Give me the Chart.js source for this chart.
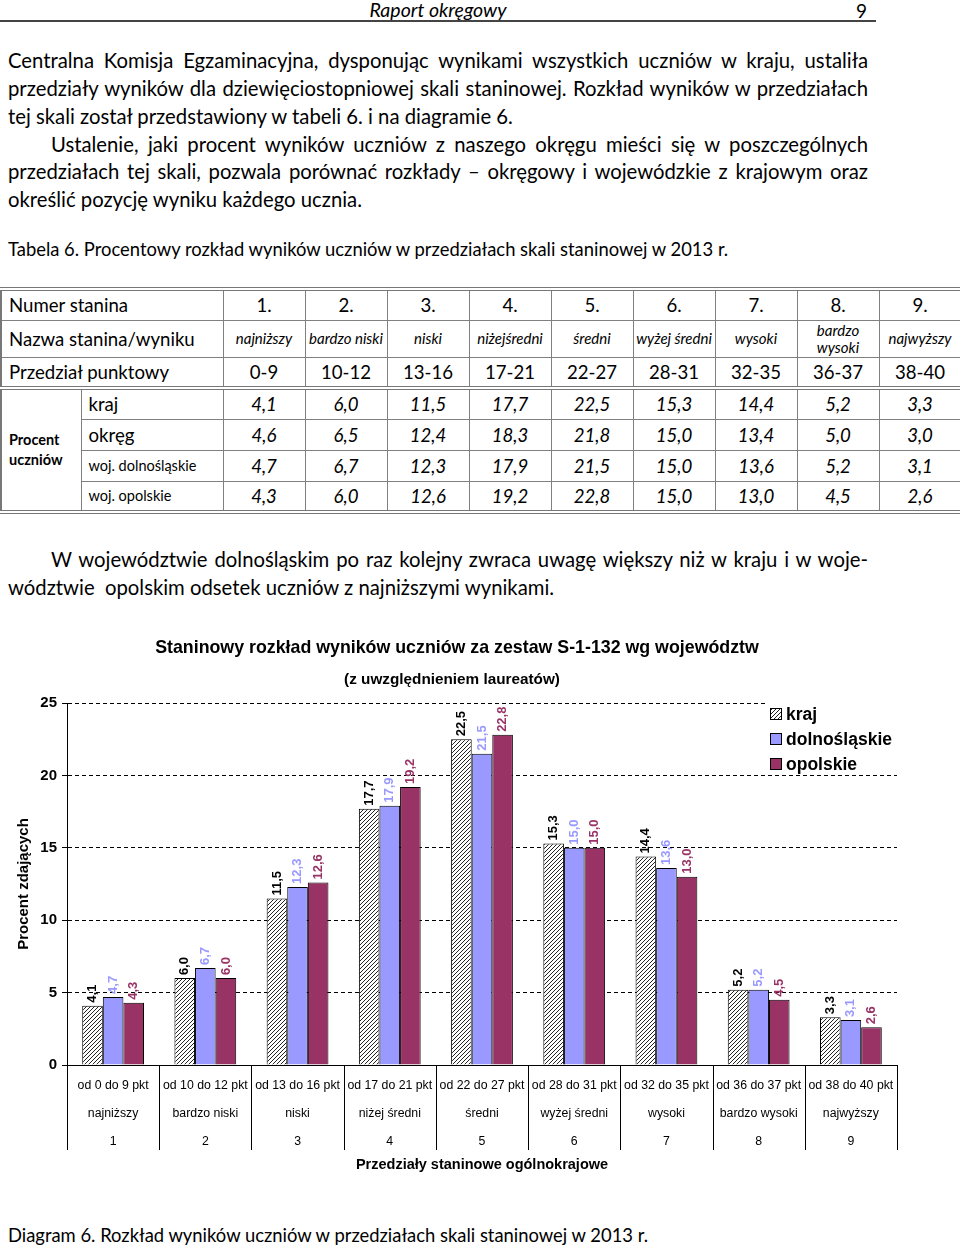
<!DOCTYPE html>
<html lang="pl">
<head>
<meta charset="utf-8">
<title>Raport okręgowy</title>
<script src="https://cdn.jsdelivr.net/npm/chart.js@4.4.0/dist/chart.umd.min.js"></script>
<style>
  body { margin: 0; width: 960px; height: 1247px; position: relative; background: #fff; color: #000;
         font-family: Lato, "Open Sans", sans-serif; overflow: hidden; }
  .abs { position: absolute; }
  .line { position: absolute; left: 8px; width: 860px; height: 28px; line-height: 28px; font-size: 20.3px; }
  .cap { font-size: 18.4px; }
  .just { text-align: justify; text-align-last: justify; }
  .ind { left: 51px; width: 817px; }
  #head { left: 0; top: 0; width: 876px; height: 20px; line-height: 20px; text-align: center; font-style: italic; font-size: 19.5px; }
  #page { left: 856px; top: 0; line-height: 22px; font-size: 19px; }
  #rule { left: 0; top: 20px; width: 876px; border-top: 2px solid #444; }
  #tab { position: absolute; left: 0; top: 287px; width: 959px; border-collapse: collapse; table-layout: fixed;
         border-top: 4px double #777; border-bottom: 4px double #777; border-left: 2px solid #777; font-size: 18.6px; }
  #tab td { border: 1px solid #808080; padding: 0; text-align: center; vertical-align: middle; white-space: nowrap; }
  #tab td.lab { text-align: left; padding-left: 7px; }
  #tab td.sm { font-size: 14.5px; }
  #tab td.it { font-style: italic; }
  #tab td.nm { font-style: italic; font-size: 15px; line-height: 17px; }
  #tab tr.sep td { border-top: 4px double #777; }
  #tab td.proc { font-weight: bold; font-size: 14.5px; text-align: left; padding-left: 7px; line-height: 20px; }
  #wrap { left: 0; top: 625px; width: 960px; height: 560px; }
</style>
</head>
<body>
<div id="head" class="abs">Raport okręgowy</div>
<div id="page" class="abs">9</div>
<div id="rule" class="abs"></div>

<div class="line just" style="top:46px">Centralna Komisja Egzaminacyjna, dysponując wynikami wszystkich uczniów w kraju, ustaliła</div>
<div class="line just" style="top:74px">przedziały wyników dla dziewięciostopniowej skali staninowej. Rozkład wyników w przedziałach</div>
<div class="line" style="top:102px">tej skali został przedstawiony w tabeli 6. i na diagramie 6.</div>
<div class="line just ind" style="top:130px">Ustalenie, jaki procent wyników uczniów z naszego okręgu mieści się w poszczególnych</div>
<div class="line just" style="top:157px">przedziałach tej skali, pozwala porównać rozkłady – okręgowy i wojewódzkie z krajowym oraz</div>
<div class="line" style="top:185px">określić pozycję wyniku każdego ucznia.</div>
<div class="line cap" style="top:235px">Tabela 6. Procentowy rozkład wyników uczniów w przedziałach skali staninowej w 2013 r.</div>

<table id="tab"></table>

<div class="line just ind" style="top:545px">W województwie dolnośląskim po raz kolejny zwraca uwagę większy niż w kraju i w woje-</div>
<div class="line" style="top:573px">wództwie&nbsp; opolskim odsetek uczniów z najniższymi wynikami.</div>

<div id="wrap" class="abs"><canvas id="chart" width="960" height="560"></canvas></div>

<div class="line cap" style="top:1221px">Diagram 6. Rozkład wyników uczniów w przedziałach skali staninowej w 2013 r.</div>

<script>
// dane z tabeli 6 / diagramu 6
const numery = ['1', '2', '3', '4', '5', '6', '7', '8', '9'];
const nazwy = ['najniższy', 'bardzo niski', 'niski', 'niżej średni', 'średni', 'wyżej średni', 'wysoki', 'bardzo wysoki', 'najwyższy'];
const nazwyTabela = ['najniższy', 'bardzo niski', 'niski', 'niżejśredni', 'średni', 'wyżej średni', 'wysoki', 'bardzo<br>wysoki', 'najwyższy'];
const przedzialy = ['0-9', '10-12', '13-16', '17-21', '22-27', '28-31', '32-35', '36-37', '38-40'];
const przedzialyPkt = ['od 0 do 9 pkt', 'od 10 do 12 pkt', 'od 13 do 16 pkt', 'od 17 do 21 pkt', 'od 22 do 27 pkt',
                       'od 28 do 31 pkt', 'od 32 do 35 pkt', 'od 36 do 37 pkt', 'od 38 do 40 pkt'];

const kraj = [4.1, 6.0, 11.5, 17.7, 22.5, 15.3, 14.4, 5.2, 3.3];
const okreg = [4.6, 6.5, 12.4, 18.3, 21.8, 15.0, 13.4, 5.0, 3.0];
const dolnoslaskie = [4.7, 6.7, 12.3, 17.9, 21.5, 15.0, 13.6, 5.2, 3.1];
const opolskie = [4.3, 6.0, 12.6, 19.2, 22.8, 15.0, 13.0, 4.5, 2.6];

const yTicks = [0, 5, 10, 15, 20, 25];

const fmt = v => v.toFixed(1).replace('.', ',');

// tabela
function buildTable() {
    let h = '<colgroup><col style="width:80px"><col style="width:142px">';
    numery.forEach(() => { h += '<col style="width:82px">'; });
    h += '</colgroup>';
    h += '<tr style="height:31px"><td colspan="2" class="lab">Numer stanina</td>' + numery.map(n => '<td>' + n + '.</td>').join('') + '</tr>';
    h += '<tr style="height:37px"><td colspan="2" class="lab">Nazwa stanina/wyniku</td>' + nazwyTabela.map(n => '<td class="nm">' + n + '</td>').join('') + '</tr>';
    h += '<tr style="height:31px"><td colspan="2" class="lab">Przedział punktowy</td>' + przedzialy.map(n => '<td>' + n + '</td>').join('') + '</tr>';
    const wiersze = [['kraj', kraj, ''], ['okręg', okreg, ''], ['woj. dolnośląskie', dolnoslaskie, ' sm'], ['woj. opolskie', opolskie, ' sm']];
    wiersze.forEach((w, i) => {
        h += '<tr style="height:31px"' + (i === 0 ? ' class="sep"' : '') + '>';
        if (i === 0) h += '<td rowspan="4" class="proc">Procent<br>uczniów</td>';
        h += '<td class="lab' + w[2] + '">' + w[0] + '</td>';
        h += w[1].map(v => '<td class="it">' + fmt(v) + '</td>').join('');
        h += '</tr>';
    });
    document.getElementById('tab').innerHTML = h;
}
buildTable();

// kreskowanie dla słupków "kraj"
function hatch() {
    const c = document.createElement('canvas');
    c.width = 4; c.height = 4;
    const g = c.getContext('2d');
    g.fillStyle = '#fff';
    g.fillRect(0, 0, 4, 4);
    g.strokeStyle = '#222';
    g.lineWidth = 1;
    g.beginPath();
    g.moveTo(0, 4); g.lineTo(4, 0);
    g.moveTo(-1, 1); g.lineTo(1, -1);
    g.moveTo(3, 5); g.lineTo(5, 3);
    g.stroke();
    return g.createPattern(c, 'repeat');
}
const krajFill = hatch();

const ARIAL = '"Liberation Sans", Arial, sans-serif';

const extras = {
    id: 'extras',
    afterDatasetsDraw(chart) {
        const ctx = chart.ctx;
        chart.data.datasets.forEach((ds, i) => {
            chart.getDatasetMeta(i).data.forEach((bar, j) => {
                ctx.save();
                ctx.translate(bar.x, bar.y - 3);
                ctx.rotate(-Math.PI / 2);
                ctx.font = 'bold 13px ' + ARIAL;
                ctx.fillStyle = ds.labelColor;
                ctx.textAlign = 'left';
                ctx.textBaseline = 'middle';
                ctx.fillText(fmt(ds.data[j]), 0, 0);
                ctx.restore();
            });
        });
    },
    afterDraw(chart) {
        const ctx = chart.ctx;
        const area = chart.chartArea;
        const x = chart.scales.x;

        // pionowe linie między przedziałami
        ctx.save();
        ctx.strokeStyle = '#000';
        ctx.lineWidth = 1;
        ctx.beginPath();
        for (let i = 0; i <= chart.data.labels.length; i++) {
            const px = Math.round(x.getPixelForValue(i - 0.5)) + 0.5;
            ctx.moveTo(px, area.bottom);
            ctx.lineTo(px, area.bottom + 85);
        }
        ctx.stroke();

        // tytuł
        ctx.fillStyle = '#000';
        ctx.textAlign = 'center';
        ctx.textBaseline = 'middle';
        ctx.font = 'bold 17.8px ' + ARIAL;
        ctx.fillText('Staninowy rozkład wyników uczniów za zestaw S-1-132 wg województw', 457, 23);
        ctx.font = 'bold 15.3px ' + ARIAL;
        ctx.fillText('(z uwzględnieniem laureatów)', 452, 55);

        // legenda
        const lx = area.right - 132;
        ctx.fillStyle = '#fff';
        ctx.fillRect(lx, area.top - 3, area.right - lx + 4, 73);
        ctx.font = 'bold 17.5px ' + ARIAL;
        ctx.textAlign = 'left';
        chart.data.datasets.forEach((ds, i) => {
            const cy = area.top + 11 + i * 25;
            ctx.fillStyle = ds.backgroundColor;
            ctx.fillRect(lx + 5, cy - 6, 12, 12);
            ctx.strokeStyle = '#000';
            ctx.strokeRect(lx + 5.5, cy - 5.5, 11, 11);
            ctx.fillStyle = '#000';
            ctx.fillText(ds.label, lx + 21, cy + 1);
        });
        ctx.restore();
    }
};

new Chart(document.getElementById('chart'), {
    type: 'bar',
    data: {
        labels: przedzialyPkt.map((p, i) => [p, nazwy[i], numery[i]]),
        datasets: [
            { label: 'kraj', data: kraj, backgroundColor: krajFill, labelColor: '#000' },
            { label: 'dolnośląskie', data: dolnoslaskie, backgroundColor: '#9999ff', labelColor: '#9999ff' },
            { label: 'opolskie', data: opolskie, backgroundColor: '#993366', labelColor: '#993366' }
        ].map(d => Object.assign(d, { borderColor: '#000', borderWidth: 1,
                                      categoryPercentage: 0.67, barPercentage: 1 }))
    },
    options: {
        responsive: false,
        animation: false,
        devicePixelRatio: 1,
        layout: { padding: { top: 78, right: 63, bottom: 7, left: 0 } },
        plugins: { legend: { display: false }, title: { display: false }, tooltip: { enabled: false } },
        scales: {
            x: {
                grid: { display: false, drawTicks: false },
                border: { display: true, color: '#000', width: 1 },
                ticks: { color: '#000', padding: 7, maxRotation: 0, autoSkip: false,
                         font: { family: ARIAL, size: 12.3, lineHeight: 2.25 } },
                title: { display: true, text: 'Przedziały staninowe ogólnokrajowe', color: '#000',
                         font: { family: ARIAL, size: 14.5, weight: 'bold' }, padding: { top: 2, bottom: 4 } },
                afterFit(s) { s.height = 113; }
            },
            y: {
                min: 0, max: 25,
                afterBuildTicks(s) { s.ticks = yTicks.map(v => ({ value: v })); },
                grid: { color: '#000', tickColor: '#000', tickLength: 5, lineWidth: 1 },
                border: { display: true, color: '#000', width: 1, dash: [4, 3] },
                ticks: { color: '#000', padding: 5, font: { family: ARIAL, size: 15, weight: 'bold' } },
                title: { display: true, text: 'Procent zdających', color: '#000',
                         font: { family: ARIAL, size: 15, weight: 'bold' }, padding: { top: 15 } },
                afterFit(s) { s.width = 67; }
            }
        }
    },
    plugins: [extras]
});
</script>
</body>
</html>
